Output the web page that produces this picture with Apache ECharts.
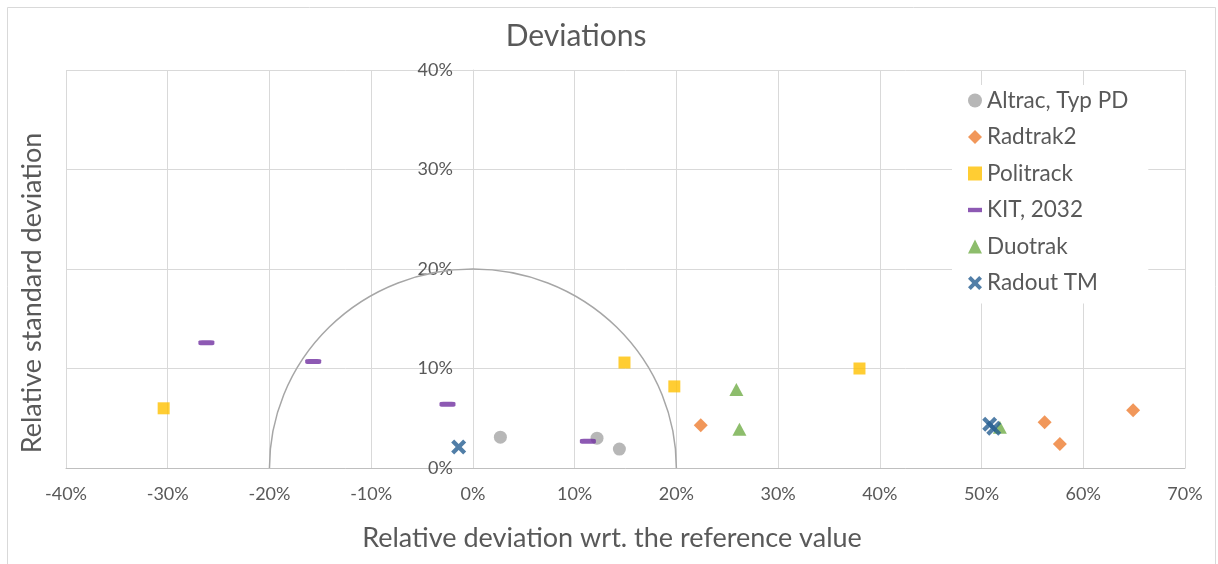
<!DOCTYPE html>
<html>
<head>
<meta charset="utf-8">
<script src="https://cdn.jsdelivr.net/npm/echarts@6/dist/echarts.min.js"></script>
<style>
html,body{margin:0;padding:0;background:#fff;}
#chart{width:1218px;height:564px;}
</style>
</head>
<body>
<div id="chart"></div>
<script>
// ---- data ----
const xTicks = { min: -0.4, max: 0.7, interval: 0.1 };
const yTicks = { min: 0, max: 0.4, interval: 0.1 };
const circleRadius = 0.2;

const altrac   = [[0.027, 0.031], [0.122, 0.030], [0.144, 0.019]];
const radtrak2 = [[0.224, 0.043], [0.562, 0.046], [0.577, 0.024], [0.649, 0.058]];
const politrack = [[-0.304, 0.060], [0.149, 0.106], [0.198, 0.082], [0.380, 0.100]];
const kit2032  = [[-0.262, 0.126], [-0.157, 0.107], [-0.025, 0.064], [0.113, 0.027]];
const duotrak  = [[0.259, 0.079], [0.262, 0.039], [0.518, 0.041]];
const radoutTM = [[-0.014, 0.021], [0.508, 0.044], [0.512, 0.040]];

const seriesNames = ['Altrac, Typ PD', 'Radtrak2', 'Politrack', 'KIT, 2032', 'Duotrak', 'Radout TM'];

// ---- chart ----
const FONT = 'Lato';
const TXT = '#595959';
const X_PATH = 'path://M2,0 L5,3 L8,0 L10,2 L7,5 L10,8 L8,10 L5,7 L2,10 L0,8 L3,5 L0,2 Z';
const DASH_PATH = 'path://M0,0 L16,0 L16,5 L0,5 Z';
const DIAMOND_PATH = 'path://M5,0 L10,5 L5,10 L0,5 Z';
const Y_LABEL_GAP = 20;

const pct = v => Math.round(v * 100) + '%';

const chart = echarts.init(document.getElementById('chart'), null, { renderer: 'canvas' });

const option = {
  backgroundColor: '#fff',
  animation: false,
  textStyle: { fontFamily: FONT, color: TXT },
  graphic: [
    { type: 'rect', shape: { x: 7.5, y: 7.5, width: 1208, height: 580 },
      style: { fill: 'none', stroke: '#d9d9d9', lineWidth: 1 }, silent: true, z: -10 },
    { type: 'text', x: 576, y: 36,
      style: { text: 'Deviations', fill: TXT, font: '30px ' + FONT, textAlign: 'center', textVerticalAlign: 'middle' } },
    { type: 'text', x: 612, y: 538,
      style: { text: 'Relative deviation wrt. the reference value', fill: TXT, font: '27px ' + FONT, textAlign: 'center', textVerticalAlign: 'middle' } },
    { type: 'text', x: 32, y: 293, rotation: Math.PI / 2,
      style: { text: 'Relative standard deviation', fill: TXT, font: '27px ' + FONT, textAlign: 'center', textVerticalAlign: 'middle' } }
  ],
  grid: { left: 66, right: 33, top: 70, bottom: 96, containLabel: false },
  legend: {
    orient: 'vertical',
    left: 952, top: 85,
    padding: [4, 20, 9, 16],
    backgroundColor: '#fff',
    itemWidth: 14, itemHeight: 14, itemGap: 13.5,
    symbolKeepAspect: true,
    textStyle: { fontFamily: FONT, fontSize: 22.5, color: TXT },
    data: [
      { name: seriesNames[0], icon: 'circle' },
      { name: seriesNames[1], icon: DIAMOND_PATH },
      { name: seriesNames[2], icon: 'rect' },
      { name: seriesNames[3], icon: DASH_PATH },
      { name: seriesNames[4], icon: 'triangle' },
      { name: seriesNames[5], icon: X_PATH }
    ]
  },
  xAxis: {
    type: 'value', min: xTicks.min, max: xTicks.max, interval: xTicks.interval,
    axisLine: { show: true, onZero: false, lineStyle: { color: '#bfbfbf', width: 1 } },
    axisTick: { show: false },
    axisLabel: { formatter: pct, fontFamily: FONT, fontSize: 18, color: TXT, margin: 17 },
    splitLine: { show: true, lineStyle: { color: '#d9d9d9', width: 1 } }
  },
  yAxis: {
    type: 'value', min: yTicks.min, max: yTicks.max, interval: yTicks.interval,
    axisLine: { show: true, onZero: true, lineStyle: { color: '#d9d9d9', width: 1 } },
    axisTick: { show: false },
    axisLabel: { formatter: pct, fontFamily: FONT, fontSize: 18, color: TXT, margin: Y_LABEL_GAP },
    splitLine: { show: true, lineStyle: { color: '#d9d9d9', width: 1 } }
  },
  series: [
    {
      type: 'custom', name: 'reference circle', silent: true, z: 1,
      data: [[0, 0]],
      renderItem: function (params, api) {
        const c = api.coord([0, 0]);
        const rx = api.size([circleRadius * 2, 0], [0, 0])[0] / 2;
        const ry = api.size([0, circleRadius * 2], [0, 0])[1] / 2;
        return {
          type: 'path',
          shape: { pathData: 'M ' + (c[0] - rx) + ' ' + c[1] + ' A ' + rx + ' ' + ry + ' 0 0 1 ' + (c[0] + rx) + ' ' + c[1] },
          style: { fill: 'none', stroke: '#a6a6a6', lineWidth: 1.5 }
        };
      }
    },
    { type: 'scatter', name: seriesNames[0], data: altrac, symbol: 'circle', symbolSize: 13,
      itemStyle: { color: '#a5a5a5' }, z: 3 },
    { type: 'scatter', name: seriesNames[1], data: radtrak2, symbol: 'diamond', symbolSize: 14,
      itemStyle: { color: '#ed7d31' }, z: 3 },
    { type: 'scatter', name: seriesNames[2], data: politrack, symbol: 'rect', symbolSize: 12,
      itemStyle: { color: '#ffc000' }, z: 3 },
    { type: 'scatter', name: seriesNames[3], data: kit2032, symbol: 'roundRect', symbolSize: [16, 5],
      itemStyle: { color: '#7030a0' }, z: 3 },
    { type: 'scatter', name: seriesNames[4], data: duotrak, symbol: 'triangle', symbolSize: [14, 13],
      itemStyle: { color: '#70ad47' }, z: 3 },
    { type: 'scatter', name: seriesNames[5], data: radoutTM, symbol: X_PATH, symbolSize: 15,
      itemStyle: { color: '#255e91' }, z: 3 }
  ]
};
chart.setOption(option);

// Place the y-axis labels beside the x = 0 line (the y axis crosses the x axis at zero).
const zeroPx = chart.convertToPixel({ xAxisIndex: 0 }, 0);
const minPx = chart.convertToPixel({ xAxisIndex: 0 }, xTicks.min);
chart.setOption({ yAxis: { axisLabel: { margin: Y_LABEL_GAP - (zeroPx - minPx) } } });
</script>
</body>
</html>
